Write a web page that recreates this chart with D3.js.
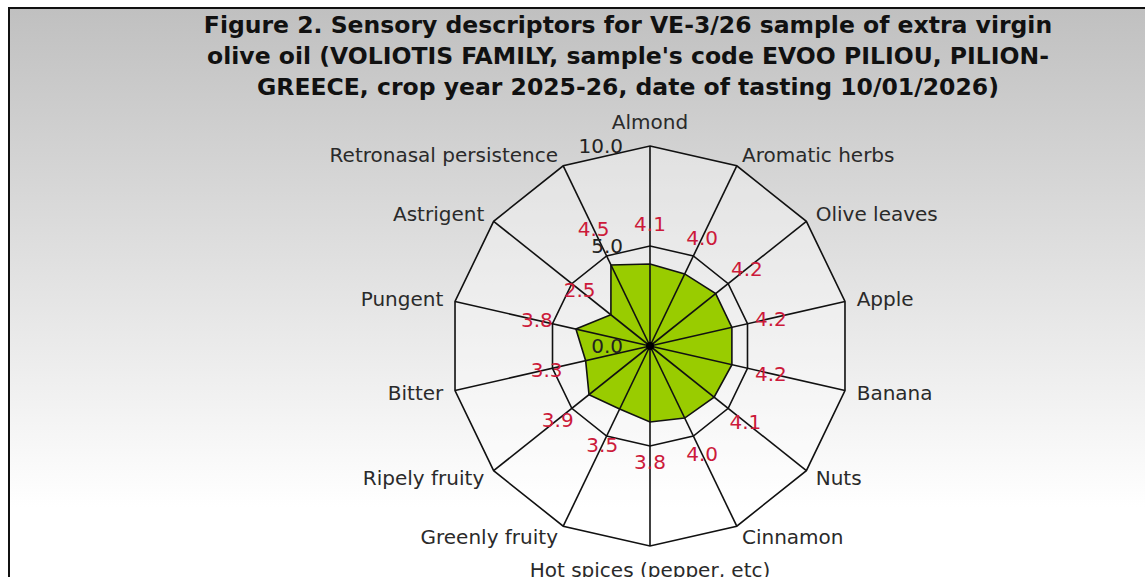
<!DOCTYPE html>
<html>
<head>
<meta charset="utf-8">
<script src="https://cdn.jsdelivr.net/npm/d3@7"></script>
<style>
  body { margin: 0; background: #fff; }
  svg text { font-family: "DejaVu Sans", Verdana, sans-serif; }
</style>
</head>
<body>
<div id="chart"></div>
<script>
const titleLines = [
  "Figure 2. Sensory descriptors for VE-3/26 sample of extra virgin",
  "olive oil (VOLIOTIS FAMILY, sample's code EVOO PILIOU, PILION-",
  "GREECE, crop year 2025-26, date of tasting 10/01/2026)"
];
const categories = ["Almond", "Aromatic herbs", "Olive leaves", "Apple", "Banana", "Nuts",
  "Cinnamon", "Hot spices (pepper, etc)", "Greenly fruity", "Ripely fruity", "Bitter",
  "Pungent", "Astrigent", "Retronasal persistence"];
const values = [4.1, 4.0, 4.2, 4.2, 4.2, 4.1, 4.0, 3.8, 3.5, 3.9, 3.3, 3.8, 2.5, 4.5];
const ticks = [0, 5, 10];

const width = 1145, height = 577;
const cx = 650, cy = 346, radius = 200;

const svg = d3.select('#chart').append('svg')
    .attr('width', width)
    .attr('height', height);

// background gradient like the Excel chart area
const grad = svg.append('defs').append('linearGradient')
    .attr('id', 'bg').attr('x1', 0).attr('y1', 0).attr('x2', 0).attr('y2', 1);
grad.append('stop').attr('offset', '0%').attr('stop-color', '#c0c0c0');
grad.append('stop').attr('offset', '85%').attr('stop-color', '#ffffff');

svg.append('rect')
    .attr('x', 9).attr('y', 8)
    .attr('width', width + 10).attr('height', height + 10)
    .attr('fill', 'url(#bg)')
    .attr('stroke', '#111')
    .attr('stroke-width', 2);

// title
svg.append('g').selectAll('text')
    .data(titleLines)
    .join('text')
    .attr('x', 628)
    .attr('y', (d, i) => 33 + i * 31)
    .attr('text-anchor', 'middle')
    .style('font-size', '23.5px')
    .style('font-weight', 'bold')
    .attr('fill', '#111')
    .text(d => d);

// scales
const rScale = d3.scaleLinear().domain([0, 10]).range([0, radius]);
const aScale = d3.scaleLinear().domain([0, categories.length]).range([0, 2 * Math.PI]);

const px = (i, r) => cx + r * Math.sin(aScale(i));
const py = (i, r) => cy - r * Math.cos(aScale(i));

const g = svg.append('g');

// light plot area
g.append('path')
    .attr('d', d3.line()(categories.map((c, i) => [px(i, rScale(10)), py(i, rScale(10))])) + 'Z')
    .attr('fill', '#fff')
    .attr('fill-opacity', 0.35);

// data area
g.append('path')
    .datum(values)
    .attr('d', d3.lineRadial()
        .angle((d, i) => aScale(i))
        .radius(d => rScale(d))
        .curve(d3.curveLinearClosed))
    .attr('transform', `translate(${cx},${cy})`)
    .attr('fill', '#99cc00')
    .attr('stroke', '#111')
    .attr('stroke-width', 1.6);

// rings
g.selectAll('.ring')
    .data(ticks.filter(t => t > 0))
    .join('path')
    .attr('class', 'ring')
    .attr('d', t => d3.line()(categories.map((c, i) => [px(i, rScale(t)), py(i, rScale(t))])) + 'Z')
    .attr('fill', 'none')
    .attr('stroke', '#111')
    .attr('stroke-width', 1.6);

// spokes
g.selectAll('.spoke')
    .data(categories)
    .join('line')
    .attr('class', 'spoke')
    .attr('x1', cx).attr('y1', cy)
    .attr('x2', (d, i) => px(i, rScale(10)))
    .attr('y2', (d, i) => py(i, rScale(10)))
    .attr('stroke', '#111')
    .attr('stroke-width', 1.6);

g.append('circle')
    .attr('cx', cx).attr('cy', cy).attr('r', 4)
    .attr('fill', '#000');

// tick labels
g.selectAll('.tick')
    .data(ticks)
    .join('text')
    .attr('class', 'tick')
    .attr('x', cx - 27)
    .attr('y', t => cy - rScale(t) + 7)
    .attr('text-anchor', 'end')
    .style('font-size', '20px')
    .attr('fill', '#222')
    .text(t => t.toFixed(1));

// category labels
g.selectAll('.cat')
    .data(categories)
    .join('text')
    .attr('class', 'cat')
    .attr('x', (d, i) => {
      const s = Math.sin(aScale(i));
      return px(i, radius + (Math.abs(s) < 0.1 ? 24 : 12));
    })
    .attr('y', (d, i) => {
      const s = Math.sin(aScale(i));
      return py(i, radius + (Math.abs(s) < 0.1 ? 24 : 12));
    })
    .attr('dy', '0.36em')
    .attr('text-anchor', (d, i) => {
      const s = Math.sin(aScale(i));
      return Math.abs(s) < 0.1 ? 'middle' : (s > 0 ? 'start' : 'end');
    })
    .style('font-size', '20px')
    .attr('fill', '#2a2a2a')
    .text(d => d);

// value labels
g.selectAll('.val')
    .data(values)
    .join('text')
    .attr('class', 'val')
    .attr('x', (d, i) => px(i, rScale(d) + 40))
    .attr('y', (d, i) => py(i, rScale(d) + 40))
    .attr('dy', '0.36em')
    .attr('text-anchor', 'middle')
    .style('font-size', '20px')
    .attr('fill', '#cc1a3a')
    .text(d => d.toFixed(1));
</script>
</body>
</html>
